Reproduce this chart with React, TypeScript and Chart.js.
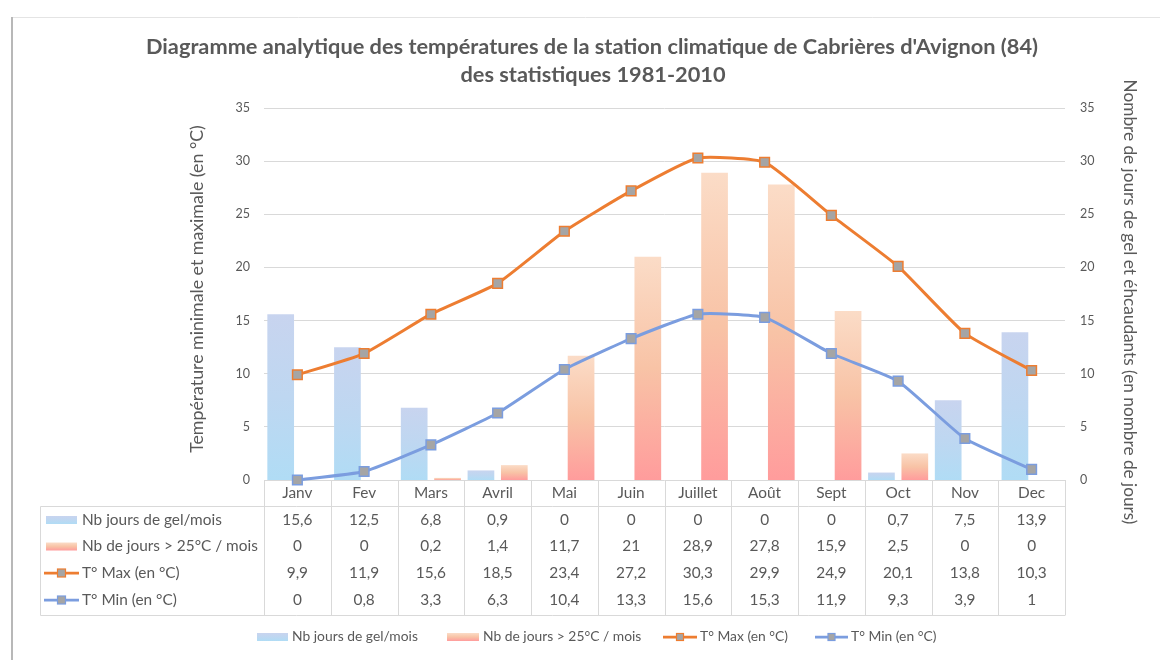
import React, { useEffect, useRef } from 'react';
import { Chart, registerables } from 'chart.js';

Chart.register(...registerables);

const MONTHS = ['Janv', 'Fev', 'Mars', 'Avril', 'Mai', 'Juin', 'Juillet', 'Août', 'Sept', 'Oct', 'Nov', 'Dec'];
const GEL = [15.6, 12.5, 6.8, 0.9, 0, 0, 0, 0, 0, 0.7, 7.5, 13.9];
const CHAUD = [0, 0, 0.2, 1.4, 11.7, 21, 28.9, 27.8, 15.9, 2.5, 0, 0];
const TMAX = [9.9, 11.9, 15.6, 18.5, 23.4, 27.2, 30.3, 29.9, 24.9, 20.1, 13.8, 10.3];
const TMIN = [0, 0.8, 3.3, 6.3, 10.4, 13.3, 15.6, 15.3, 11.9, 9.3, 3.9, 1];

const Y_MIN = 0;
const Y_MAX = 35;
const Y_STEP = 5;

const TITLE_LINES = [
  "Diagramme analytique des températures de la station climatique de Cabrières d'Avignon (84)",
  'des statistiques 1981-2010',
];
const LEFT_TITLE = 'Température minimale et maximale (en °C)';
const RIGHT_TITLE = 'Nombre de jours de gel et éhcaudants (en nombre de jours)';
const SERIES_LABELS = ['Nb jours de gel/mois', 'Nb de jours > 25°C / mois', 'T° Max (en °C)', 'T° Min (en °C)'];

const FONT = 'Lato, "Noto Sans", sans-serif';
const TEXT = '#595959';
const GRID = '#d9d9d9';
const ORANGE = '#ed7d31';
const BLUE = '#7b9ddf';
const MARKER = '#a5a5a5';
const BLUE_STOPS: [number, string][] = [[0, '#c8d4ef'], [0.5, '#bed7f1'], [1, '#b0dcf5']];
const ORANGE_STOPS: [number, string][] = [[0, '#fbdcc7'], [0.5, '#f8c3a6'], [1, '#ff9c9c']];

const fmt = (v: number) => String(v).replace('.', ',');

function fitSize(ctx: CanvasRenderingContext2D, text: string, weight: string, target: number) {
  ctx.font = `${weight} 100px ${FONT}`;
  const w = ctx.measureText(text).width;
  return (100 * target) / w;
}

function barGradient(stops: [number, string][], axis: string) {
  return (c: any) => {
    const chart = c.chart;
    if (!chart.chartArea || c.type !== 'data') return stops[1][1];
    const s = chart.scales[axis];
    const top = s.getPixelForValue(c.raw);
    const bottom = s.getPixelForValue(0);
    if (!isFinite(top) || Math.abs(bottom - top) < 0.5) return stops[1][1];
    const g = chart.ctx.createLinearGradient(0, top, 0, bottom);
    stops.forEach(([o, col]) => g.addColorStop(o, col));
    return g;
  };
}

function drawSwatch(ctx: CanvasRenderingContext2D, x: number, y: number, w: number, h: number, stops: [number, string][]) {
  const g = ctx.createLinearGradient(0, y - h / 2, 0, y + h / 2);
  stops.forEach(([o, col]) => g.addColorStop(o, col));
  ctx.fillStyle = g;
  ctx.fillRect(x, y - h / 2, w, h);
}

function drawLineKey(ctx: CanvasRenderingContext2D, x: number, y: number, w: number, color: string, m: number) {
  ctx.strokeStyle = color;
  ctx.lineWidth = 2.75;
  ctx.beginPath();
  ctx.moveTo(x, y);
  ctx.lineTo(x + w, y);
  ctx.stroke();
  ctx.fillStyle = MARKER;
  ctx.fillRect(x + w / 2 - m / 2, y - m / 2, m, m);
  ctx.lineWidth = 1.2;
  ctx.strokeRect(x + w / 2 - m / 2, y - m / 2, m, m);
}

const decoPlugin = {
  id: 'deco',
  afterDraw(chart: any) {
    const ctx: CanvasRenderingContext2D = chart.ctx;
    const ca = chart.chartArea;
    const xs = chart.scales.x;
    const n = MONTHS.length;
    const colW = (ca.right - ca.left) / n;
    ctx.save();

    // outer frame
    ctx.strokeStyle = '#e4e4e4';
    ctx.lineWidth = 1;
    ctx.beginPath();
    ctx.moveTo(11, 17.5);
    ctx.lineTo(1160, 17.5);
    ctx.stroke();
    ctx.strokeStyle = '#b8b8b8';
    ctx.lineWidth = 2;
    ctx.beginPath();
    ctx.moveTo(12, 17);
    ctx.lineTo(12, 660);
    ctx.stroke();

    // title
    const ts = fitSize(ctx, TITLE_LINES[0], 'bold', 893);
    ctx.font = `bold ${ts}px ${FONT}`;
    ctx.fillStyle = TEXT;
    ctx.textAlign = 'center';
    ctx.textBaseline = 'middle';
    ctx.fillText(TITLE_LINES[0], 592, 47);
    ctx.fillText(TITLE_LINES[1], 593, 75);

    // axis titles
    const ls = fitSize(ctx, LEFT_TITLE, 'normal', 328);
    ctx.save();
    ctx.translate(197, 289);
    ctx.rotate(-Math.PI / 2);
    ctx.font = `${ls}px ${FONT}`;
    ctx.fillText(LEFT_TITLE, 0, 0);
    ctx.restore();
    const rs = fitSize(ctx, RIGHT_TITLE, 'normal', 445);
    ctx.save();
    ctx.translate(1130, 302);
    ctx.rotate(Math.PI / 2);
    ctx.font = `${rs}px ${FONT}`;
    ctx.fillText(RIGHT_TITLE, 0, 0);
    ctx.restore();

    // data table
    const hdrTop = ca.bottom;
    const hdrBot = 506.5;
    const bodyBot = 615.5;
    const tblLeft = 40.5;
    ctx.strokeStyle = GRID;
    ctx.lineWidth = 1;
    ctx.beginPath();
    for (let i = 0; i <= n; i++) {
      const x = Math.round(ca.left + i * colW) + 0.5;
      ctx.moveTo(x, hdrTop);
      ctx.lineTo(x, bodyBot);
    }
    ctx.moveTo(tblLeft, hdrBot);
    ctx.lineTo(ca.right, hdrBot);
    ctx.moveTo(tblLeft, bodyBot);
    ctx.lineTo(ca.right, bodyBot);
    ctx.moveTo(tblLeft, hdrBot);
    ctx.lineTo(tblLeft, bodyBot);
    ctx.stroke();

    const tfs = fitSize(ctx, SERIES_LABELS[0], 'normal', 140);
    ctx.font = `${tfs}px ${FONT}`;
    ctx.fillStyle = TEXT;
    ctx.textAlign = 'center';
    MONTHS.forEach((m, i) => ctx.fillText(m, xs.getPixelForValue(i), 493));
    const rows = [GEL, CHAUD, TMAX, TMIN];
    const rowY = [520, 546.5, 573, 600];
    rows.forEach((arr, r) => {
      ctx.fillStyle = TEXT;
      ctx.textAlign = 'center';
      arr.forEach((v, i) => ctx.fillText(fmt(v), xs.getPixelForValue(i), rowY[r]));
      ctx.textAlign = 'left';
      ctx.fillText(SERIES_LABELS[r], 82, rowY[r]);
    });
    drawSwatch(ctx, 46, rowY[0], 31, 8, BLUE_STOPS);
    drawSwatch(ctx, 46, rowY[1], 31, 8, ORANGE_STOPS);
    drawLineKey(ctx, 44, rowY[2], 35, ORANGE, 8);
    drawLineKey(ctx, 44, rowY[3], 35, BLUE, 8);

    // bottom legend
    const lfs = fitSize(ctx, SERIES_LABELS[0], 'normal', 126);
    ctx.font = `${lfs}px ${FONT}`;
    const ly = 637;
    drawSwatch(ctx, 257, ly, 31, 8, BLUE_STOPS);
    drawSwatch(ctx, 447, ly, 32, 8, ORANGE_STOPS);
    drawLineKey(ctx, 663, ly, 34, ORANGE, 7);
    drawLineKey(ctx, 815, ly, 33, BLUE, 7);
    ctx.fillStyle = TEXT;
    ctx.textAlign = 'left';
    ctx.fillText(SERIES_LABELS[0], 292, ly);
    ctx.fillText(SERIES_LABELS[1], 483, ly);
    ctx.fillText(SERIES_LABELS[2], 700, ly);
    ctx.fillText(SERIES_LABELS[3], 851, ly);

    ctx.restore();
  },
};

export default function App() {
  const ref = useRef<HTMLCanvasElement>(null);
  useEffect(() => {
    const canvas = ref.current;
    if (!canvas) return;
    const lineCommon = {
      yAxisID: 'y',
      borderWidth: 3,
      pointStyle: 'rect',
      pointRadius: 6.8,
      pointHoverRadius: 6.8,
      pointBackgroundColor: MARKER,
      pointBorderWidth: 1.5,
      tension: 0.15,
      clip: false,
      fill: false,
    };
    const chart = new Chart(canvas, {
      type: 'bar',
      data: {
        labels: MONTHS,
        datasets: [
          {
            type: 'bar',
            label: SERIES_LABELS[0],
            data: GEL,
            yAxisID: 'y2',
            backgroundColor: barGradient(BLUE_STOPS, 'y2'),
            categoryPercentage: 1,
            barPercentage: 0.8,
            order: 2,
          },
          {
            type: 'bar',
            label: SERIES_LABELS[1],
            data: CHAUD,
            yAxisID: 'y2',
            backgroundColor: barGradient(ORANGE_STOPS, 'y2'),
            categoryPercentage: 1,
            barPercentage: 0.8,
            order: 3,
          },
          {
            ...lineCommon,
            type: 'line',
            label: SERIES_LABELS[2],
            data: TMAX,
            borderColor: ORANGE,
            pointBorderColor: ORANGE,
            order: 1,
          },
          {
            ...lineCommon,
            type: 'line',
            label: SERIES_LABELS[3],
            data: TMIN,
            borderColor: BLUE,
            pointBorderColor: BLUE,
            order: 0,
          },
        ] as any,
      },
      options: {
        animation: false,
        responsive: false,
        layout: { padding: { top: 108, bottom: 180, left: 0, right: 0 } },
        plugins: {
          legend: { display: false },
          title: { display: false },
          tooltip: { enabled: false },
        },
        scales: {
          x: { display: false },
          y: {
            position: 'left',
            min: Y_MIN,
            max: Y_MAX,
            ticks: { stepSize: Y_STEP, color: TEXT, padding: 14, font: { size: 12.5, family: FONT } },
            grid: { color: GRID, lineWidth: 1, drawTicks: false },
            border: { display: false },
            afterFit: (s: any) => {
              s.width = 264;
            },
          },
          y2: {
            position: 'right',
            min: Y_MIN,
            max: Y_MAX,
            ticks: { stepSize: Y_STEP, color: TEXT, padding: 15, font: { size: 12.5, family: FONT } },
            grid: { display: false, drawTicks: false },
            border: { display: false },
            afterFit: (s: any) => {
              s.width = 95;
            },
          },
        },
      } as any,
      plugins: [decoPlugin],
    });
    return () => chart.destroy();
  }, []);

  return (
    <div style={{ position: 'fixed', left: 0, top: 0, width: 1160, height: 660, background: '#fff' }}>
      <canvas ref={ref} width={1160} height={660} style={{ display: 'block' }} />
    </div>
  );
}
